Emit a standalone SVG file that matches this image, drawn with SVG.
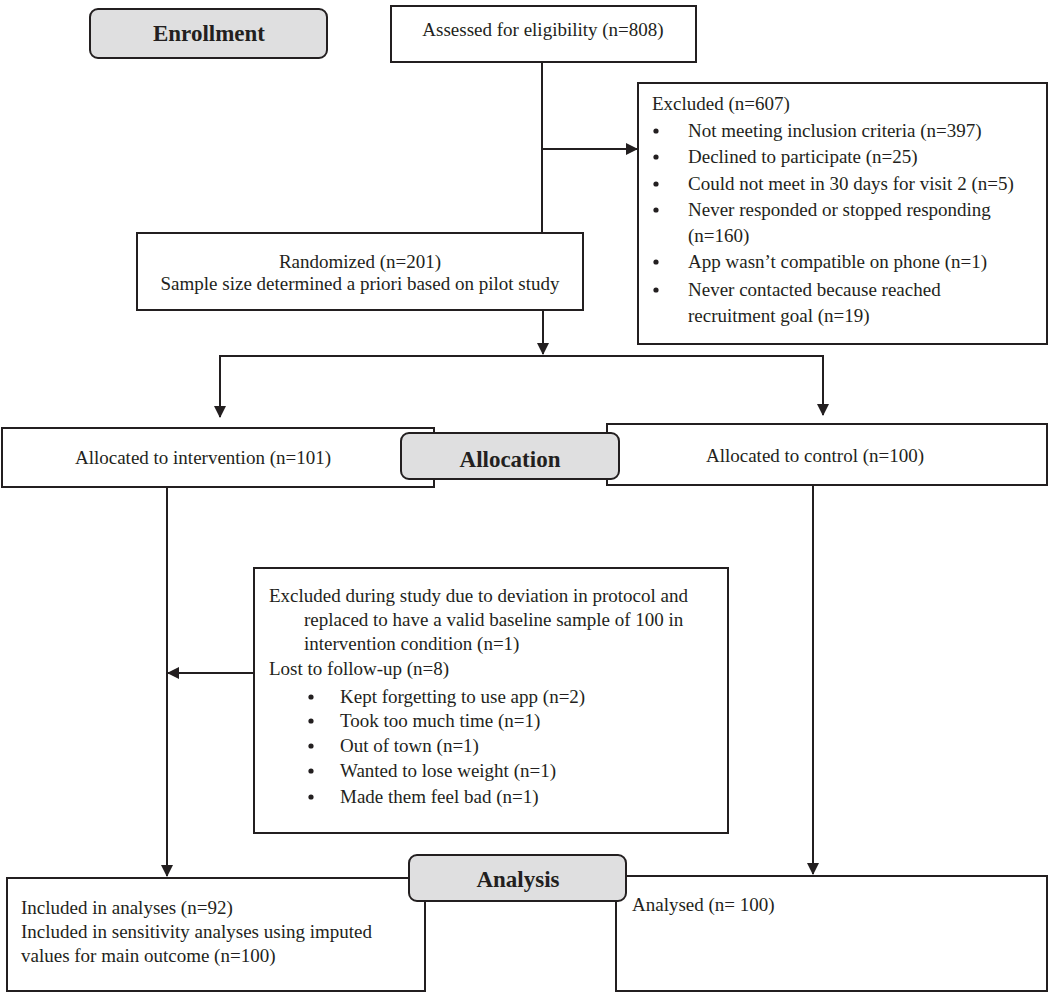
<svg xmlns="http://www.w3.org/2000/svg" width="1050" height="993" viewBox="0 0 1050 993">
<style>
.box{fill:#fff;stroke:#231f20;stroke-width:2}
.lbl{fill:#dfdfe0;stroke:#231f20;stroke-width:2}
.t{font-family:"Liberation Serif","Times New Roman",serif;font-size:19px;fill:#231f20}
.b{font-family:"Liberation Serif","Times New Roman",serif;font-size:23px;font-weight:bold;fill:#231f20}
.c{text-anchor:middle}
.ln{fill:none;stroke:#231f20;stroke-width:2}
.dot{fill:#231f20}
</style>
<defs>
<marker id="ah" markerUnits="userSpaceOnUse" markerWidth="12" markerHeight="12" viewBox="0 0 12 12" refX="11" refY="6" orient="auto">
<path d="M0,0 L12,6 L0,12 Z" fill="#231f20"/>
</marker>
</defs>
<g id="connectors">
<line class="ln" x1="542" y1="62" x2="542" y2="233"/>
<line class="ln" x1="542" y1="149" x2="637" y2="149" marker-end="url(#ah)"/>
<line class="ln" x1="543" y1="311" x2="543" y2="354" marker-end="url(#ah)"/>
<polyline class="ln" points="220,417 220,356 823,356 823,415"/>
<line class="ln" x1="220" y1="380" x2="220" y2="417" marker-end="url(#ah)"/>
<line class="ln" x1="823" y1="380" x2="823" y2="415" marker-end="url(#ah)"/>
<line class="ln" x1="167" y1="488" x2="167" y2="876" marker-end="url(#ah)"/>
<line class="ln" x1="813" y1="485" x2="813" y2="874" marker-end="url(#ah)"/>
<line class="ln" x1="254" y1="673" x2="168" y2="673" marker-end="url(#ah)"/>
</g>
<g id="enrollment">
<rect class="lbl" x="90" y="9" width="237" height="49" rx="8"/>
<text class="b c" x="209" y="41">Enrollment</text>
</g>
<g id="assessed">
<rect class="box" x="391" y="6" width="305" height="56"/>
<text class="t c" x="543" y="36">Assessed for eligibility (n=808)</text>
</g>
<g id="excluded">
<rect class="box" x="638" y="83" width="409" height="261"/>
<text class="t" x="652" y="110">Excluded (n=607)</text>
<circle class="dot" cx="656" cy="131" r="2.6"/>
<text class="t" x="688" y="137">Not meeting inclusion criteria (n=397)</text>
<circle class="dot" cx="656" cy="157" r="2.6"/>
<text class="t" x="688" y="163">Declined to participate (n=25)</text>
<circle class="dot" cx="656" cy="184" r="2.6"/>
<text class="t" x="688" y="190">Could not meet in 30 days for visit 2 (n=5)</text>
<circle class="dot" cx="656" cy="210" r="2.6"/>
<text class="t" x="688" y="216">Never responded or stopped responding</text>
<text class="t" x="688" y="242">(n=160)</text>
<circle class="dot" cx="656" cy="262" r="2.6"/>
<text class="t" x="688" y="268">App wasn’t compatible on phone (n=1)</text>
<circle class="dot" cx="656" cy="290" r="2.6"/>
<text class="t" x="688" y="296">Never contacted because reached</text>
<text class="t" x="688" y="322">recruitment goal (n=19)</text>
</g>
<g id="randomized">
<rect class="box" x="137" y="233" width="446" height="77"/>
<text class="t c" x="360" y="268">Randomized (n=201)</text>
<text class="t c" x="360" y="290">Sample size determined a priori based on pilot study</text>
</g>
<g id="intervention">
<rect class="box" x="2" y="428" width="432" height="59"/>
<text class="t c" x="203" y="464">Allocated to intervention (n=101)</text>
</g>
<g id="control">
<rect class="box" x="607" y="424" width="440" height="61"/>
<text class="t c" x="815" y="462">Allocated to control (n=100)</text>
</g>
<g id="allocation">
<rect class="lbl" x="401" y="433" width="218" height="46" rx="8"/>
<text class="b c" x="510" y="467">Allocation</text>
</g>
<g id="excluded-study">
<rect class="box" x="254" y="568" width="474" height="265"/>
<text class="t" x="269" y="602">Excluded during study due to deviation in protocol and</text>
<text class="t" x="304" y="626">replaced to have a valid baseline sample of 100 in</text>
<text class="t" x="304" y="650">intervention condition (n=1)</text>
<text class="t" x="269" y="675">Lost to follow-up (n=8)</text>
<circle class="dot" cx="311" cy="697" r="2.6"/>
<text class="t" x="340" y="703">Kept forgetting to use app (n=2)</text>
<circle class="dot" cx="311" cy="721" r="2.6"/>
<text class="t" x="340" y="727">Took too much time (n=1)</text>
<circle class="dot" cx="311" cy="746" r="2.6"/>
<text class="t" x="340" y="752">Out of town (n=1)</text>
<circle class="dot" cx="311" cy="771" r="2.6"/>
<text class="t" x="340" y="777">Wanted to lose weight (n=1)</text>
<circle class="dot" cx="311" cy="797" r="2.6"/>
<text class="t" x="340" y="803">Made them feel bad (n=1)</text>
</g>
<g id="included">
<rect class="box" x="7" y="878" width="418" height="113"/>
<text class="t" x="21" y="914">Included in analyses (n=92)</text>
<text class="t" x="21" y="938">Included in sensitivity analyses using imputed</text>
<text class="t" x="21" y="962">values for main outcome (n=100)</text>
</g>
<g id="analysed">
<rect class="box" x="616" y="876" width="431" height="115"/>
<text class="t" x="632" y="911">Analysed (n= 100)</text>
</g>
<g id="analysis">
<rect class="lbl" x="409" y="855" width="217" height="46" rx="8"/>
<text class="b c" x="518" y="887">Analysis</text>
</g>
</svg>
